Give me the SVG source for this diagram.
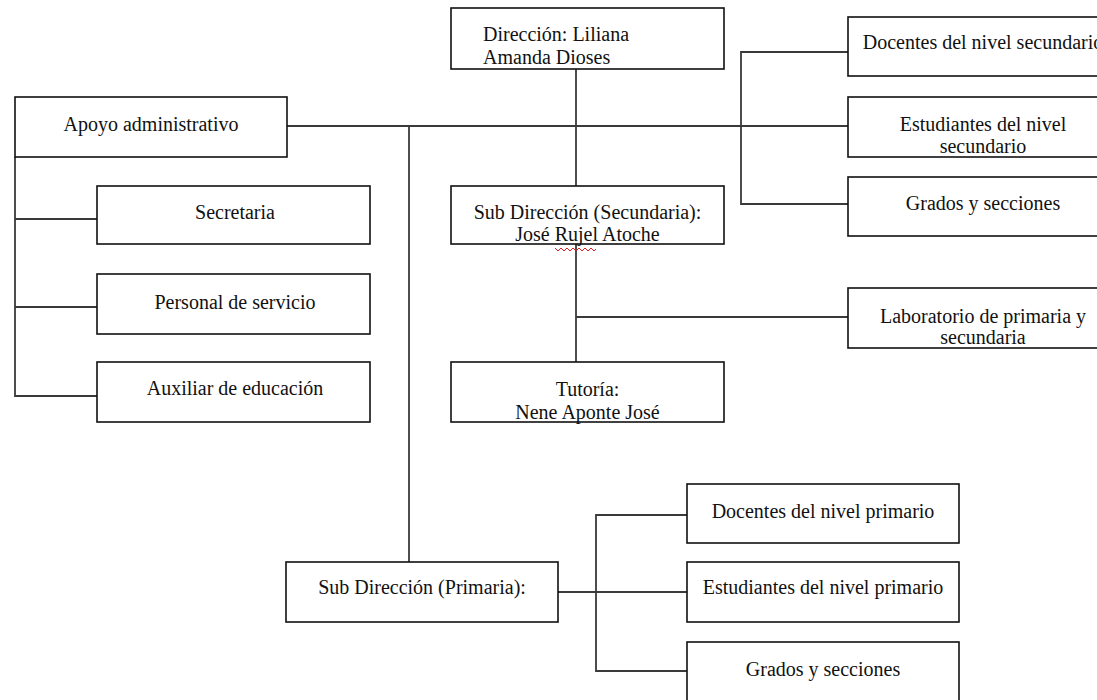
<svg xmlns="http://www.w3.org/2000/svg" width="1097" height="700" viewBox="0 0 1097 700">
<style>
.box{fill:#fff;stroke:#111;stroke-width:1.6}
.t{font-family:"Liberation Serif","Times New Roman",serif;font-size:20px;fill:#111;text-anchor:middle}
.ts{font-family:"Liberation Serif","Times New Roman",serif;font-size:20px;fill:#111;text-anchor:start}
.c{fill:none;stroke:#3a3a3a;stroke-width:1.8}
</style>
<rect width="1097" height="700" fill="#fff"/>
<g id="connectors">
<line class="c" x1="287" y1="126" x2="848" y2="126"/>
<line class="c" x1="576" y1="69" x2="576" y2="186"/>
<line class="c" x1="576" y1="244" x2="576" y2="362"/>
<line class="c" x1="576" y1="317" x2="848" y2="317"/>
<polyline class="c" points="848,52 741,52 741,204 848,204"/>
<line class="c" x1="409" y1="126" x2="409" y2="562"/>
<polyline class="c" points="15,157 15,396 97,396"/>
<line class="c" x1="15" y1="219" x2="97" y2="219"/>
<line class="c" x1="15" y1="307" x2="97" y2="307"/>
<line class="c" x1="558" y1="592" x2="687" y2="592"/>
<polyline class="c" points="687,515 596,515 596,671 687,671"/>
</g>
<g id="direccion">
<rect class="box" x="451" y="8" width="273" height="61"/>
<text class="ts" x="483" y="41">Dirección: Liliana</text>
<text class="ts" x="483" y="64">Amanda Dioses</text>
</g>
<g id="apoyo">
<rect class="box" x="15" y="97" width="272" height="60"/>
<text class="t" x="151" y="131">Apoyo administrativo</text>
</g>
<g id="secretaria">
<rect class="box" x="97" y="186" width="273" height="58"/>
<text class="t" x="235" y="219">Secretaria</text>
</g>
<g id="personal">
<rect class="box" x="97" y="274" width="273" height="60"/>
<text class="t" x="235" y="309">Personal de servicio</text>
</g>
<g id="auxiliar">
<rect class="box" x="97" y="362" width="273" height="60"/>
<text class="t" x="235" y="395">Auxiliar de educación</text>
</g>
<g id="subdir-sec">
<rect class="box" x="451" y="186" width="273" height="58"/>
<text class="t" x="587.5" y="219">Sub Dirección (Secundaria):</text>
<text class="t" x="587.5" y="241">José Rujel Atoche</text>
<path d="M555,248 l3,3 l3,-3 l3,3 l3,-3 l3,3 l3,-3 l3,3 l3,-3 l3,3 l3,-3 l3,3 l3,-3 l3,3 l2,-2" fill="none" stroke="#e02020" stroke-width="1"/>
</g>
<g id="tutoria">
<rect class="box" x="451" y="362" width="273" height="60"/>
<text class="t" x="587.5" y="396">Tutoría:</text>
<text class="t" x="587.5" y="419">Nene Aponte José</text>
</g>
<g id="docentes-sec">
<rect class="box" x="848" y="17" width="273" height="59"/>
<text class="t" x="983" y="49">Docentes del nivel secundario</text>
</g>
<g id="estudiantes-sec">
<rect class="box" x="848" y="97" width="273" height="60"/>
<text class="t" x="983" y="131">Estudiantes del nivel</text>
<text class="t" x="983" y="153">secundario</text>
</g>
<g id="grados-sec">
<rect class="box" x="848" y="177" width="273" height="59"/>
<text class="t" x="983" y="210">Grados y secciones</text>
</g>
<g id="laboratorio">
<rect class="box" x="848" y="288" width="273" height="60"/>
<text class="t" x="983" y="323">Laboratorio de primaria y</text>
<text class="t" x="983" y="344">secundaria</text>
</g>
<g id="subdir-prim">
<rect class="box" x="286" y="562" width="272" height="60"/>
<text class="t" x="422" y="594">Sub Dirección (Primaria):</text>
</g>
<g id="docentes-prim">
<rect class="box" x="687" y="484" width="272" height="59"/>
<text class="t" x="823" y="518">Docentes del nivel primario</text>
</g>
<g id="estudiantes-prim">
<rect class="box" x="687" y="562" width="272" height="60"/>
<text class="t" x="823" y="594">Estudiantes del nivel primario</text>
</g>
<g id="grados-prim">
<rect class="box" x="687" y="642" width="272" height="70"/>
<text class="t" x="823" y="676">Grados y secciones</text>
</g>
</svg>
